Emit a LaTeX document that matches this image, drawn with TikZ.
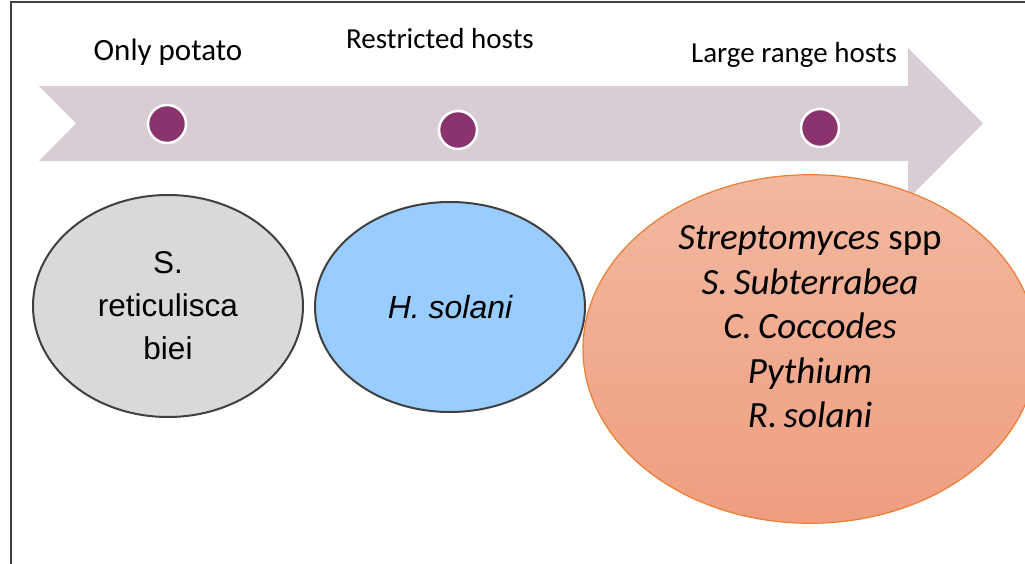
\documentclass[tikz,border=0pt]{standalone}
\usepackage{fontspec}
\setmainfont{Carlito}
\newfontfamily\sansalt{Liberation Sans}
\usetikzlibrary{shapes.geometric}

\definecolor{bandc}{RGB}{217,205,213}
\definecolor{dotc}{RGB}{138,51,111}
\definecolor{framec}{RGB}{64,64,64}
\definecolor{grayfill}{RGB}{217,217,217}
\definecolor{bluefill}{RGB}{153,204,255}
\definecolor{peachtop}{RGB}{242,184,160}
\definecolor{peachbot}{RGB}{239,158,128}
\definecolor{orangeline}{RGB}{237,125,49}

\tikzset{
  dot/.style={circle, fill=dotc, draw=white, line width=2.5pt, minimum size=38pt, inner sep=0pt},
  toplabel/.style={anchor=base, inner sep=0pt, font=\fontsize{29}{34}\selectfont},
  blob/.style={ellipse, inner sep=0pt, align=center},
}

\begin{document}
\begin{tikzpicture}[x=1pt, y=-1pt]
\useasboundingbox (0,0) rectangle (1025,564);
\fill[white] (0,0) rectangle (1025,564);

% outer frame (left and top edges)
\draw[framec, line width=2.5pt] (11,564) -- (11,2) -- (1025,2);

% timeline arrow
\fill[bandc] (39,86) -- (908,86) -- (908,48) -- (983,123.5) -- (908,199)
  -- (908,161) -- (39,161) -- (76,123.5) -- cycle;

% milestones
\node[dot] (d1) at (167,124) {};
\node[dot] (d2) at (458,130) {};
\node[dot] (d3) at (820,128) {};

% milestone labels
\node[toplabel, font=\fontsize{31}{36}\selectfont] (l1) at (168,61) {Only potato};
\node[toplabel] (l2) at (440,49) {Restricted hosts};
\node[toplabel] (l3) at (794,63) {Large range hosts};

% host groups
\node[blob, draw=framec, line width=2pt, fill=grayfill,
      minimum width=270pt, minimum height=222pt,
      font=\fontsize{31.5}{43}\sansalt] (e1) at (168,306)
      {S.\\ reticulisca\\ biei};
\node[blob, draw=framec, line width=2pt, fill=bluefill,
      minimum width=270pt, minimum height=210pt,
      font=\fontsize{32}{40}\sansalt\itshape] (e2) at (450,307)
      {H. solani};
\node[blob, draw=orangeline, line width=1.2pt, top color=peachtop, bottom color=peachbot,
      minimum width=454pt, minimum height=340pt,
      font=\fontsize{37}{44.5}\selectfont\itshape] (e3) at (810,349)
      {Streptomyces \upshape spp\\ S.\,Subterrabea\\ C.\,Coccodes\\ Pythium\\ R.\,solani\\ \mbox{}};
\end{tikzpicture}
\end{document}
